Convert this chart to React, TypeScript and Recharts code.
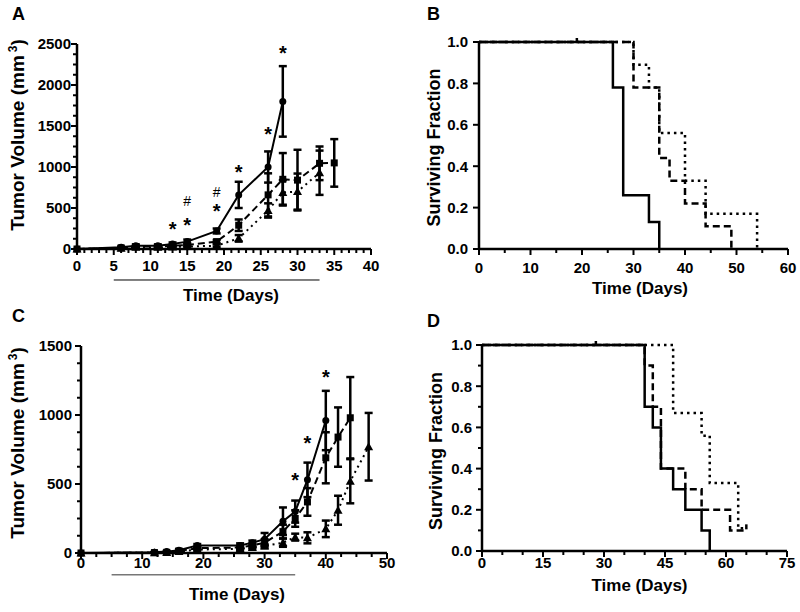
import React from "react";
import { ComposedChart, Line, XAxis, YAxis, ErrorBar, ReferenceLine } from "recharts";

const FONT = '"Liberation Sans", Arial, Helvetica, sans-serif';

// Panel A: tumor volume (mm3), mean +/- SEM
const daysA1 = [0, 6, 8, 11, 13, 15, 19, 22, 26, 28];
const volA1 = [0, 20, 40, 40, 60, 90, 220, 660, 1000, 1800];
const errA1 = [0, 10, 15, 15, 20, 25, 30, 160, 190, 430];
const daysA2 = [0, 6, 8, 11, 13, 15, 19, 22, 26, 28, 30, 33, 35];
const volA2 = [0, 15, 30, 30, 40, 50, 90, 290, 660, 850, 840, 1045, 1050];
const errA2 = [0, 8, 10, 12, 15, 15, 20, 70, 263, 320, 370, 205, 290];
const daysA3 = [0, 6, 8, 11, 13, 15, 19, 22, 26, 28, 30, 33];
const volA3 = [0, 10, 20, 20, 25, 30, 40, 130, 470, 690, 700, 930];
const errA3 = [0, 5, 8, 10, 10, 12, 15, 40, 87, 150, 220, 270];
const starDaysA = [13, 15, 15, 19, 19, 22, 26, 28];
const starPosA = [293, 345, 580, 516, 700, 985, 1450, 2435];
const starSymA = ["*", "*", "#", "*", "#", "*", "*", "*"];
const treatA = [5, 33];

// Panel B: survival
const daysB1 = [0, 26, 28, 33, 35];
const survB1 = [1, 0.78, 0.26, 0.13, 0];
const daysB2 = [0, 30, 35, 37, 40, 44, 49];
const survB2 = [1, 0.78, 0.44, 0.33, 0.22, 0.11, 0];
const daysB3 = [0, 30, 33, 35, 40, 44, 54];
const survB3 = [1, 0.89, 0.78, 0.56, 0.33, 0.17, 0];
const censorDaysB = [19];
const censorSurvB = [1];

// Panel C: tumor volume (mm3), mean +/- SEM
const daysC1 = [0, 12, 14, 16, 19, 26, 28, 30, 33, 35, 37, 40];
const volC1 = [0, 5, 10, 20, 55, 55, 75, 100, 230, 300, 530, 960];
const errC1 = [0, 3, 5, 8, 10, 15, 15, 45, 100, 80, 125, 215];
const daysC2 = [0, 12, 14, 16, 19, 26, 28, 30, 33, 35, 37, 40, 42, 44];
const volC2 = [0, 3, 5, 15, 35, 40, 55, 75, 155, 250, 370, 690, 840, 980];
const errC2 = [0, 2, 4, 6, 10, 12, 15, 25, 50, 60, 100, 185, 215, 295];
const daysC3 = [0, 12, 14, 16, 19, 26, 28, 30, 33, 35, 37, 40, 42, 44, 47];
const volC3 = [0, 2, 3, 10, 25, 30, 40, 50, 75, 115, 110, 175, 310, 520, 770];
const errC3 = [0, 2, 3, 5, 8, 10, 12, 15, 30, 25, 40, 60, 105, 160, 245];
const starDaysC = [35, 37, 40];
const starPosC = [560, 827, 1307];
const treatC = [5, 35];

// Panel D: survival
const daysD1 = [0, 40, 42, 44, 47, 50, 54, 56];
const survD1 = [1, 0.7, 0.6, 0.4, 0.3, 0.2, 0.1, 0];
const daysD2 = [0, 40, 42, 44, 50, 54, 61, 65];
const survD2 = [1, 0.9, 0.7, 0.4, 0.3, 0.2, 0.1, 0.1];
const daysD3 = [0, 47, 54, 56, 63, 65];
const survD3 = [1, 0.67, 0.56, 0.33, 0.11, 0.11];
const censorDaysD = [28, 65];
const censorSurvD = [1, 0.11];

// axis ticks
const xMajorA = [0, 5, 10, 15, 20, 25, 30, 35, 40];
const yMajorA = [0, 500, 1000, 1500, 2000, 2500];
const xMajorB = [0, 10, 20, 30, 40, 50, 60];
const yMajorB = [0, 0.2, 0.4, 0.6, 0.8, 1.0];
const xMajorC = [0, 10, 20, 30, 40, 50];
const yMajorC = [0, 500, 1000, 1500];
const xMajorD = [0, 15, 30, 45, 60, 75];
const yMajorD = [0, 0.2, 0.4, 0.6, 0.8, 1.0];

const withMinor = (majors: number[], parts: number) => {
  const out: number[] = [];
  for (let i = 0; i < majors.length - 1; i++) {
    const step = (majors[i + 1] - majors[i]) / parts;
    for (let k = 0; k < parts; k++) out.push(+(majors[i] + k * step).toFixed(4));
  }
  out.push(majors[majors.length - 1]);
  return out;
};

const pts = (days: number[], vals: number[], errs?: number[]) =>
  days.map((d, i) => ({ day: d, v: vals[i], e: errs ? errs[i] : 0 }));

const isMajor = (majors: number[], v: number) => majors.some((m) => Math.abs(m - v) < 1e-6);

const makeXTick = (majors: number[], labelDy: number) => (props: any) => {
  const { x, y, payload, index } = props;
  const major = isMajor(majors, payload.value);
  return (
    <g key={"xt" + index}>
      <line x1={x} x2={x} y1={y} y2={y + (major ? 6 : 4)} stroke="#000" strokeWidth={2} />
      {major && (
        <text x={x} y={y + labelDy} textAnchor="middle" fontSize={15} fontWeight="bold" fontFamily={FONT} fill="#000">
          {payload.value}
        </text>
      )}
    </g>
  );
};

const makeYTick = (majors: number[], labelDx: number, fixed?: number) => (props: any) => {
  const { x, y, payload, index } = props;
  const major = isMajor(majors, payload.value);
  return (
    <g key={"yt" + index}>
      <line x1={x} x2={x - (major ? 6 : 4)} y1={y} y2={y} stroke="#000" strokeWidth={2} />
      {major && (
        <text x={x - labelDx} y={y} dy="0.36em" textAnchor="end" fontSize={15} fontWeight="bold" fontFamily={FONT} fill="#000">
          {fixed != null ? Number(payload.value).toFixed(fixed) : payload.value}
        </text>
      )}
    </g>
  );
};

const marker = (shape: string) => (p: any) => {
  const { cx, cy, index } = p;
  if (cx == null || cy == null) return <g key={shape + index} />;
  if (shape === "circle") return <circle key={shape + index} cx={cx} cy={cy} r={3.5} fill="#000" />;
  if (shape === "square") return <rect key={shape + index} x={cx - 3.5} y={cy - 3.5} width={7} height={7} fill="#000" />;
  return <polygon key={shape + index} points={`${cx},${cy - 4.5} ${cx - 4.5},${cy + 3.5} ${cx + 4.5},${cy + 3.5}`} fill="#000" />;
};

const starDot = (p: any) => {
  const { cx, cy, index, payload } = p;
  const hash = payload.s === "#";
  return (
    <text key={"st" + index} x={cx} y={cy + (hash ? 5 : 11)} textAnchor="middle" fontSize={hash ? 14 : 20}
      fontWeight={hash ? "normal" : "bold"} fontFamily={FONT} fill="#000">
      {payload.s}
    </text>
  );
};

const censorDot = (p: any) => {
  const { cx, cy, index } = p;
  return <line key={"c" + index} x1={cx} x2={cx} y1={cy - 4} y2={cy + 1} stroke="#000" strokeWidth={2.5} />;
};

const axisLine = { stroke: "#000", strokeWidth: 2.5 };

const growth = (data: any[], dash: string | undefined, shape: string) => (
  <Line data={data} dataKey="v" type="linear" stroke="#000" strokeWidth={2} strokeDasharray={dash}
    dot={marker(shape)} activeDot={false} isAnimationActive={false}>
    <ErrorBar dataKey="e" width={4} strokeWidth={2.5} stroke="#000" direction="y" isAnimationActive={false} />
  </Line>
);

export default function App() {
  const a1 = pts(daysA1, volA1, errA1);
  const a2 = pts(daysA2, volA2, errA2);
  const a3 = pts(daysA3, volA3, errA3);
  const starsA = starDaysA.map((d, i) => ({ day: d, v: starPosA[i], s: starSymA[i] }));
  const c1 = pts(daysC1, volC1, errC1);
  const c2 = pts(daysC2, volC2, errC2);
  const c3 = pts(daysC3, volC3, errC3);
  const starsC = starDaysC.map((d, i) => ({ day: d, v: starPosC[i], s: "*" }));
  const b1 = pts(daysB1, survB1);
  const b2 = pts(daysB2, survB2);
  const b3 = pts(daysB3, survB3);
  const cb = pts(censorDaysB, censorSurvB);
  const d1 = pts(daysD1, survD1);
  const d2 = pts(daysD2, survD2);
  const d3 = pts(daysD3, survD3);
  const cd = pts(censorDaysD, censorSurvD);

  const title = { fontFamily: FONT, fontWeight: "bold" as const, fill: "#000" };

  return (
    <div style={{ position: "absolute", left: 0, top: 0, width: 800, height: 612, background: "#fff" }}>
      <div style={{ position: "absolute", left: 0, top: 0 }}>
        <ComposedChart width={400} height={306} margin={{ top: 44, right: 29, left: 0, bottom: 0 }}>
          <XAxis type="number" dataKey="day" domain={[0, 40]} ticks={withMinor(xMajorA, 5)} interval={0}
            tick={makeXTick(xMajorA, 22)} tickLine={false} tickSize={0} tickMargin={0} axisLine={axisLine} height={57} />
          <YAxis type="number" domain={[0, 2500]} ticks={withMinor(yMajorA, 4)} interval={0}
            tick={makeYTick(yMajorA, 6)} tickLine={false} tickSize={0} tickMargin={0} axisLine={axisLine} width={77} />
          <ReferenceLine segment={[{ x: treatA[0], y: -378 }, { x: treatA[1], y: -378 }]} stroke="#000" strokeWidth={1} ifOverflow="visible" />
          {growth(a3, "2 4", "triangle")}
          {growth(a2, "7 4", "square")}
          {growth(a1, undefined, "circle")}
          <Line data={starsA} dataKey="v" stroke="none" dot={starDot} activeDot={false} isAnimationActive={false} />
        </ComposedChart>
      </div>
      <div style={{ position: "absolute", left: 400, top: 0 }}>
        <ComposedChart width={400} height={306} margin={{ top: 42, right: 12, left: 0, bottom: 0 }}>
          <XAxis type="number" dataKey="day" domain={[0, 60]} ticks={withMinor(xMajorB, 2)} interval={0}
            tick={makeXTick(xMajorB, 24)} tickLine={false} tickSize={0} tickMargin={0} axisLine={axisLine} height={57} />
          <YAxis type="number" domain={[0, 1]} ticks={yMajorB} interval={0}
            tick={makeYTick(yMajorB, 11, 1)} tickLine={false} tickSize={0} tickMargin={0} axisLine={axisLine} width={79} />
          <Line data={b3} dataKey="v" type="stepAfter" stroke="#000" strokeWidth={2.5} strokeDasharray="2.5 4" dot={false} activeDot={false} isAnimationActive={false} />
          <Line data={b2} dataKey="v" type="stepAfter" stroke="#000" strokeWidth={2.5} strokeDasharray="7 4" dot={false} activeDot={false} isAnimationActive={false} />
          <Line data={b1} dataKey="v" type="stepAfter" stroke="#000" strokeWidth={2.5} dot={false} activeDot={false} isAnimationActive={false} />
          <Line data={cb} dataKey="v" stroke="none" dot={censorDot} activeDot={false} isAnimationActive={false} />
        </ComposedChart>
      </div>
      <div style={{ position: "absolute", left: 0, top: 306 }}>
        <ComposedChart width={400} height={306} margin={{ top: 40, right: 13, left: 0, bottom: 0 }}>
          <XAxis type="number" dataKey="day" domain={[0, 50]} ticks={withMinor(xMajorC, 4)} interval={0}
            tick={makeXTick(xMajorC, 15)} tickLine={false} tickSize={0} tickMargin={0} axisLine={axisLine} height={59} />
          <YAxis type="number" domain={[0, 1500]} ticks={withMinor(yMajorC, 4)} interval={0}
            tick={makeYTick(yMajorC, 9)} tickLine={false} tickSize={0} tickMargin={0} axisLine={axisLine} width={81} />
          <ReferenceLine segment={[{ x: treatC[0], y: -157 }, { x: treatC[1], y: -157 }]} stroke="#777" strokeWidth={1.5} ifOverflow="visible" />
          {growth(c3, "2 4", "triangle")}
          {growth(c2, "7 4", "square")}
          {growth(c1, undefined, "circle")}
          <Line data={starsC} dataKey="v" stroke="none" dot={starDot} activeDot={false} isAnimationActive={false} />
        </ComposedChart>
      </div>
      <div style={{ position: "absolute", left: 400, top: 306 }}>
        <ComposedChart width={400} height={306} margin={{ top: 39, right: 13, left: 0, bottom: 0 }}>
          <XAxis type="number" dataKey="day" domain={[0, 75]} ticks={withMinor(xMajorD, 3)} interval={0}
            tick={makeXTick(xMajorD, 17)} tickLine={false} tickSize={0} tickMargin={0} axisLine={axisLine} height={61} />
          <YAxis type="number" domain={[0, 1]} ticks={withMinor(yMajorD, 2)} interval={0}
            tick={makeYTick(yMajorD, 10, 1)} tickLine={false} tickSize={0} tickMargin={0} axisLine={axisLine} width={82} />
          <Line data={d3} dataKey="v" type="stepAfter" stroke="#000" strokeWidth={2.5} strokeDasharray="2.5 4" dot={false} activeDot={false} isAnimationActive={false} />
          <Line data={d2} dataKey="v" type="stepAfter" stroke="#000" strokeWidth={2.5} strokeDasharray="7 4" dot={false} activeDot={false} isAnimationActive={false} />
          <Line data={d1} dataKey="v" type="stepAfter" stroke="#000" strokeWidth={2.5} dot={false} activeDot={false} isAnimationActive={false} />
          <Line data={cd} dataKey="v" stroke="none" dot={censorDot} activeDot={false} isAnimationActive={false} />
        </ComposedChart>
      </div>
      <svg width={800} height={612} style={{ position: "absolute", left: 0, top: 0, pointerEvents: "none" }}>
        <text x={12} y={20} fontSize={18} {...title}>A</text>
        <text x={427} y={20} fontSize={18} {...title}>B</text>
        <text x={12} y={322} fontSize={18} {...title}>C</text>
        <text x={427} y={327} fontSize={18} {...title}>D</text>
        <text transform="translate(17.5,135) rotate(-90)" dy="0.33em" textAnchor="middle" fontSize={19} {...title}>
          Tumor Volume (mm<tspan dx="3" dy="-7" fontSize={12}>3</tspan><tspan dy="7">)</tspan>
        </text>
        <text transform="translate(434.5,147.5) rotate(-90)" dy="0.33em" textAnchor="middle" fontSize={18} {...title}>
          Surviving Fraction
        </text>
        <text transform="translate(17.5,443) rotate(-90)" dy="0.33em" textAnchor="middle" fontSize={19} {...title}>
          Tumor Volume (mm<tspan dx="3" dy="-7" fontSize={12}>3</tspan><tspan dy="7">)</tspan>
        </text>
        <text transform="translate(436,451) rotate(-90)" dy="0.33em" textAnchor="middle" fontSize={18} {...title}>
          Surviving Fraction
        </text>
        <text x={231} y={301} textAnchor="middle" fontSize={17} {...title}>Time (Days)</text>
        <text x={640} y={294} textAnchor="middle" fontSize={17} {...title}>Time (Days)</text>
        <text x={237} y={600} textAnchor="middle" fontSize={17} {...title}>Time (Days)</text>
        <text x={639.5} y={591} textAnchor="middle" fontSize={17} {...title}>Time (Days)</text>
      </svg>
    </div>
  );
}
